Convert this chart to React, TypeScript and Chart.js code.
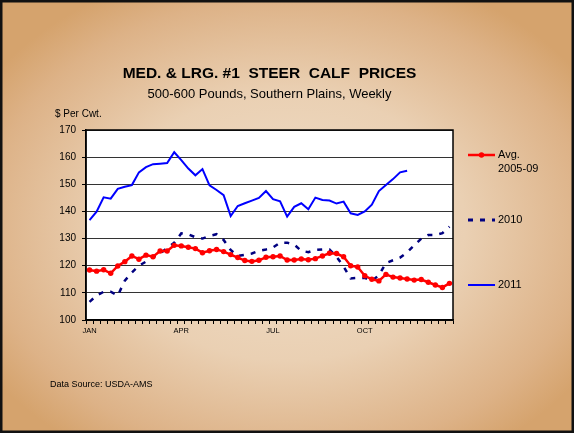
import React, { useEffect, useRef } from 'react';
import { Chart, registerables } from 'chart.js';

Chart.register(...registerables);

const quarterLabels = ['JAN', 'APR', 'JUL', 'OCT'];
const weeksPerQuarter = 13;
const weekCount = 52;
const categories: string[] = Array.from({ length: weekCount }, (_, i) =>
  i % weeksPerQuarter === 0 ? quarterLabels[i / weeksPerQuarter] : ''
);

const avg2005to09 = [
  118.4, 118.0, 118.5, 117.2, 119.9, 121.5, 123.6, 122.4, 123.9, 123.3,
  125.4, 125.4, 127.5, 127.3, 126.8, 126.3, 124.8, 125.5, 126.0, 125.2,
  124.1, 123.0, 121.9, 121.6, 122.0, 123.1, 123.3, 123.6, 122.1, 122.1,
  122.5, 122.2, 122.6, 123.6, 124.6, 124.5, 123.3, 120.0, 119.5, 116.3,
  115.0, 114.4, 116.8, 115.8, 115.5, 115.1, 114.7, 114.9, 113.9, 112.9,
  112.0, 113.5,
];

const prices2010 = [
  106.7, 109.0, 110.4, 110.4, 109.0, 114.5, 117.5, 120.0, 121.5, 123.2,
  124.5, 126.5, 128.5, 131.9, 131.6, 130.5, 130.0, 131.0, 131.6, 129.5,
  125.8, 123.6, 124.0, 124.5, 125.5, 126.0, 126.7, 128.5, 128.5, 127.8,
  125.5, 125.0, 125.8, 126.0, 126.0, 123.3, 119.7, 115.3, 115.5, 115.5,
  114.4, 116.5, 121.0, 122.0, 123.0, 124.9, 127.5, 130.0, 131.3, 131.3,
  132.0, 134.4,
];

const prices2011: (number | null)[] = [
  136.8, 139.9, 145.2, 144.7, 148.3, 149.1, 149.7, 154.4, 156.3, 157.4,
  157.6, 157.8, 161.8, 158.9, 155.8, 153.3, 155.6, 149.6, 147.9, 146.0,
  138.3, 142.0, 143.0, 144.0, 145.0, 147.5, 144.5, 143.7, 138.1, 141.7,
  143.0, 140.8, 145.1, 144.2, 144.0, 142.9, 143.6, 139.3, 138.7, 140.0,
  142.5, 147.5, 149.7, 151.9, 154.4, 155.0, null, null, null, null,
  null, null,
];

const yMin = 100;
const yMax = 170;
const yMinorStep = 5;
const yLabelStep = 10;

const titleText = 'MED. & LRG. #1  STEER  CALF  PRICES';
const subtitleText = '500-600 Pounds, Southern Plains, Weekly';
const yUnitText = '$ Per Cwt.';
const sourceText = 'Data Source: USDA-AMS';
const legendAvgLines = ['Avg.', '2005-09'];
const legend2010 = '2010';
const legend2011 = '2011';

const FONT = 'Arial, "Liberation Sans", Helvetica, sans-serif';

const RED = '#ff0000';
const NAVY = '#000080';
const BLUE = '#0000ff';

const decorPlugin = {
  id: 'decor',
  beforeDraw(chart: any) {
    const { ctx, width, height, chartArea: a } = chart;
    ctx.save();
    ctx.translate(width / 2, height / 2 + 10);
    ctx.scale(1, height / width);
    const g = ctx.createRadialGradient(0, 0, 0, 0, 0, width * 0.62);
    g.addColorStop(0, '#f0dec9');
    g.addColorStop(0.5, '#ead0b3');
    g.addColorStop(0.85, '#ddb287');
    g.addColorStop(1, '#d5a36d');
    ctx.fillStyle = g;
    ctx.fillRect(-width, -width, width * 2, width * 2);
    ctx.restore();

    ctx.save();
    ctx.fillStyle = '#ffffff';
    ctx.fillRect(a.left, a.top, a.right - a.left, a.bottom - a.top);
    ctx.restore();
  },
  afterDatasetsDraw(chart: any) {
    const { ctx, chartArea: a } = chart;
    ctx.save();
    ctx.strokeStyle = '#000';
    ctx.lineWidth = 1.5;
    ctx.strokeRect(a.left, a.top, a.right - a.left, a.bottom - a.top);
    ctx.restore();
  },
  afterDraw(chart: any) {
    const { ctx, width, height, chartArea: a } = chart;
    ctx.save();
    // outer frame
    ctx.strokeStyle = '#111';
    ctx.lineWidth = 2.5;
    ctx.strokeRect(1.25, 1.25, width - 2.5, height - 2.5);

    const cx = (a.left + a.right) / 2;
    ctx.fillStyle = '#000';
    ctx.textAlign = 'center';
    ctx.textBaseline = 'middle';
    ctx.font = `bold 15.5px ${FONT}`;
    ctx.fillText(titleText, cx, 74);
    ctx.font = `13px ${FONT}`;
    ctx.fillText(subtitleText, cx, 94);

    ctx.textAlign = 'left';
    ctx.font = `10px ${FONT}`;
    ctx.fillText(yUnitText, 55, 114);
    ctx.font = `9px ${FONT}`;
    ctx.fillText(sourceText, 50, 385);

    // legend
    const lx0 = 468;
    const lx1 = 495;
    const tx = 498;
    ctx.font = `11px ${FONT}`;

    ctx.strokeStyle = RED;
    ctx.lineWidth = 2.5;
    ctx.beginPath();
    ctx.moveTo(lx0, 155);
    ctx.lineTo(lx1, 155);
    ctx.stroke();
    ctx.fillStyle = RED;
    ctx.beginPath();
    ctx.arc((lx0 + lx1) / 2, 155, 2.7, 0, Math.PI * 2);
    ctx.fill();
    ctx.fillStyle = '#000';
    ctx.fillText(legendAvgLines[0], tx, 155);
    ctx.fillText(legendAvgLines[1], tx, 169);

    ctx.strokeStyle = NAVY;
    ctx.lineWidth = 3;
    ctx.setLineDash([5, 7]);
    ctx.beginPath();
    ctx.moveTo(lx0, 220);
    ctx.lineTo(lx1, 220);
    ctx.stroke();
    ctx.setLineDash([]);
    ctx.fillText(legend2010, tx, 220);

    ctx.strokeStyle = BLUE;
    ctx.lineWidth = 2;
    ctx.beginPath();
    ctx.moveTo(lx0, 285);
    ctx.lineTo(lx1, 285);
    ctx.stroke();
    ctx.fillText(legend2011, tx, 285);
    ctx.restore();
  },
};

export default function App() {
  const canvasRef = useRef<HTMLCanvasElement | null>(null);

  useEffect(() => {
    const canvas = canvasRef.current;
    if (!canvas) return;
    const chart = new Chart(canvas, {
      type: 'line',
      data: {
        labels: categories,
        datasets: [
          {
            label: 'Avg. 2005-09',
            data: avg2005to09,
            borderColor: RED,
            backgroundColor: RED,
            borderWidth: 2.5,
            pointRadius: 2.7,
            pointBorderWidth: 0,
            pointBackgroundColor: RED,
            tension: 0,
            order: 1,
          },
          {
            label: '2010',
            data: prices2010,
            borderColor: NAVY,
            backgroundColor: NAVY,
            borderWidth: 2.5,
            borderDash: [5, 7],
            pointRadius: 0,
            tension: 0,
            order: 2,
          },
          {
            label: '2011',
            data: prices2011,
            borderColor: BLUE,
            backgroundColor: BLUE,
            borderWidth: 2,
            pointRadius: 0,
            tension: 0,
            order: 3,
          },
        ],
      },
      options: {
        animation: false,
        responsive: false,
        maintainAspectRatio: false,
        font: { family: FONT },
        layout: { padding: { left: 0, top: 130, right: 121, bottom: 0 } },
        plugins: {
          legend: { display: false },
          title: { display: false },
          tooltip: { enabled: false },
        },
        scales: {
          x: {
            type: 'category',
            offset: true,
            grid: {
              offset: true,
              drawOnChartArea: false,
              tickLength: 4,
              color: '#000',
              lineWidth: 1,
            },
            border: { color: '#000', width: 1.5 },
            ticks: {
              autoSkip: false,
              maxRotation: 0,
              minRotation: 0,
              padding: 2,
              color: '#000',
              font: { family: FONT, size: 7.5 },
            },
            afterFit: (s: any) => {
              s.height = 113;
            },
          },
          y: {
            min: yMin,
            max: yMax,
            ticks: {
              stepSize: yMinorStep,
              padding: 6,
              color: '#000',
              font: { family: FONT, size: 10 },
              callback: (v: any) => (Number(v) % yLabelStep === 0 ? String(v) : ''),
            },
            grid: {
              color: (c: any) =>
                c.tick && c.tick.value % yLabelStep === 0 ? '#333' : 'rgba(0,0,0,0)',
              tickColor: '#000',
              tickLength: 4,
              lineWidth: 1,
            },
            border: { color: '#000', width: 1.5 },
            afterFit: (s: any) => {
              s.width = 86;
            },
          },
        },
      },
      plugins: [decorPlugin],
    } as any);
    return () => chart.destroy();
  }, []);

  return (
    <div style={{ position: 'fixed', left: 0, top: 0, width: 574, height: 433 }}>
      <canvas ref={canvasRef} width={574} height={433} style={{ display: 'block' }} />
    </div>
  );
}
